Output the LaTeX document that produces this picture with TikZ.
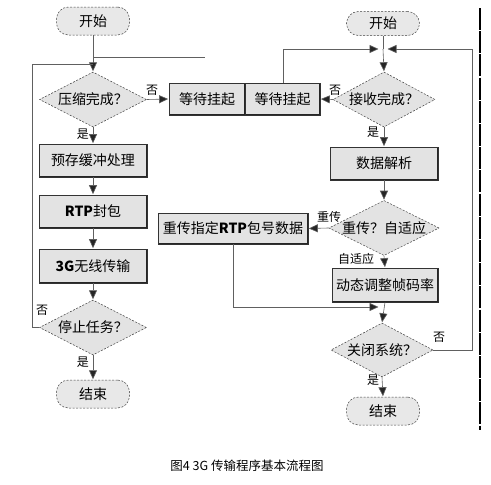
\documentclass[tikz,border=0pt]{standalone}
\usepackage{fontspec}
\newfontfamily\cjk{Noto Sans CJK SC}
\usetikzlibrary{shapes.geometric,arrows.meta}
\tikzset{
  every node/.style={font=\cjk\fontsize{14}{14}\selectfont, text=black},
  procbox/.style={rectangle, draw=black!80, line width=0.7pt, fill=gray!22, inner sep=0pt,
    path picture={\draw[black!85,line width=1.6pt] (path picture bounding box.south west) -- (path picture bounding box.south east) -- (path picture bounding box.north east);}},
  decbox/.style={diamond, draw=black!75, dashed, dash pattern=on 2pt off 1.5pt, line width=0.5pt, fill=gray!22, inner sep=0pt, shape aspect=2},
  termbox/.style={rectangle, rounded corners=12pt, draw=black!75, dashed, dash pattern=on 2pt off 1.5pt, line width=0.5pt, fill=gray!18, inner sep=0pt},
  lbl/.style={font=\cjk\fontsize{12}{12}\selectfont, inner sep=0pt},
  conn/.style={draw=gray!75!black, line width=0.6pt},
  arr/.style={conn, -{Triangle[length=9pt,width=8pt,fill=gray!30!black]}, shorten >=0.5pt},
}
\begin{document}
\begin{tikzpicture}[x=1pt,y=-1pt]
\useasboundingbox[fill=white] (0,0) rectangle (491,485);
% left column
\node[termbox, minimum width=73pt, minimum height=28pt] (lstart) at (93,21) {开始};
\node[decbox, minimum width=107pt, minimum height=55pt] (ld1) at (93,99.5) {压缩完成？};
\node[procbox, minimum width=76pt, minimum height=32pt] (lwait) at (207,99) {等待挂起};
\node[procbox, minimum width=75pt, minimum height=32pt] (rwait) at (282.5,99) {等待挂起};
\node[procbox, minimum width=108pt, minimum height=33pt] (lp1) at (93,160.5) {预存缓冲处理};
\node[procbox, minimum width=108pt, minimum height=33pt] (lp2) at (93,211.5) {\textbf{RTP}封包};
\node[procbox, minimum width=108pt, minimum height=34pt] (lp3) at (93,266) {\textbf{3G}无线传输};
\node[decbox, minimum width=107pt, minimum height=55pt] (ld4) at (93,327.5) {停止任务？};
\node[termbox, minimum width=73pt, minimum height=28pt] (lend) at (93,394) {结束};
% right column
\node[termbox, minimum width=73pt, minimum height=24pt] (rstart) at (383,23.5) {开始};
\node[decbox, minimum width=102pt, minimum height=55pt] (rd1) at (384,99.5) {接收完成？};
\node[procbox, minimum width=108pt, minimum height=33pt] (rp1) at (384,163.5) {数据解析};
\node[decbox, minimum width=110pt, minimum height=54pt] (rd2) at (384,228) {重传？自适应};
\node[procbox, minimum width=150pt, minimum height=31pt] (rretx) at (233,228.5) {重传指定\textbf{RTP}包号数据};
\node[procbox, minimum width=106pt, minimum height=34pt] (rp2) at (385,285) {动态调整帧码率};
\node[decbox, minimum width=102pt, minimum height=54pt] (rd3) at (382,350) {关闭系统？};
\node[termbox, minimum width=73pt, minimum height=28pt] (rend) at (383,411) {结束};
% junctions and free ends
\coordinate (jL) at (93,64);
\coordinate (jLtop) at (93,57);
\coordinate (jLfree) at (205,57);
\coordinate (jR) at (383,49);
% left connectors
\draw[conn] (lstart.south) -- (jL);
\draw[arr] (jL) -- (ld1.north);
\draw[conn] (jLtop) -- (jLfree);
\draw[conn] (ld4.west) -- (32,327.5) -- (32,64) -- (jL);
\draw[arr] (ld1.east) -- (lwait.west);
\draw[arr] (ld1.south) -- (lp1.north);
\draw[arr] (lp1.south) -- (lp2.north);
\draw[arr] (lp2.south) -- (lp3.north);
\draw[arr] (lp3.south) -- (ld4.north);
\draw[arr] (ld4.south) -- (lend.north);
% right connectors
\draw[conn] (rstart.south) -- (jR);
\draw[arr] (rwait.north -| 283,0) -- (283,49) -- ([xshift=-4pt]jR);
\draw[arr] (rd3.east) -- (472,350) -- (472,49) -- ([xshift=4pt]jR);
\draw[arr] (jR) -- (rd1.north);
\draw[arr] (rd1.west) -- (rwait.east);
\draw[arr] (rd1.south) -- (rp1.north);
\draw[arr] (rp1.south) -- (rd2.north);
\draw[arr] (rd2.west) -- (rretx.east);
\draw[arr] (rd2.south) -- (rp2.north);
\draw[arr] (rretx.south) -- (233,307) -- (379,307);
\draw[arr] (rp2.south) -- (rd3.north);
\draw[arr] (rd3.south) -- (rend.north);
% labels
\node[lbl] (l1) at (152,90) {否};
\node[lbl] (l2) at (83,134) {是};
\node[lbl] (l3) at (335,90) {否};
\node[lbl] (l4) at (373,132) {是};
\node[lbl] (l5) at (329,217) {重传};
\node[lbl] (l6) at (356,259) {自适应};
\node[lbl] (l7) at (42,310) {否};
\node[lbl] (l8) at (83,362) {是};
\node[lbl] (l9) at (439,337) {否};
\node[lbl] (l10) at (373,380) {是};
% page edge
\draw[black, line width=2.8pt, dash pattern=on 22pt off 1.2pt] (480,8) -- (480,430);
% caption
\node[font=\cjk\fontsize{12.5}{13}\selectfont] (cap) at (247,466) {图4 3G 传输程序基本流程图};
\end{tikzpicture}
\end{document}
